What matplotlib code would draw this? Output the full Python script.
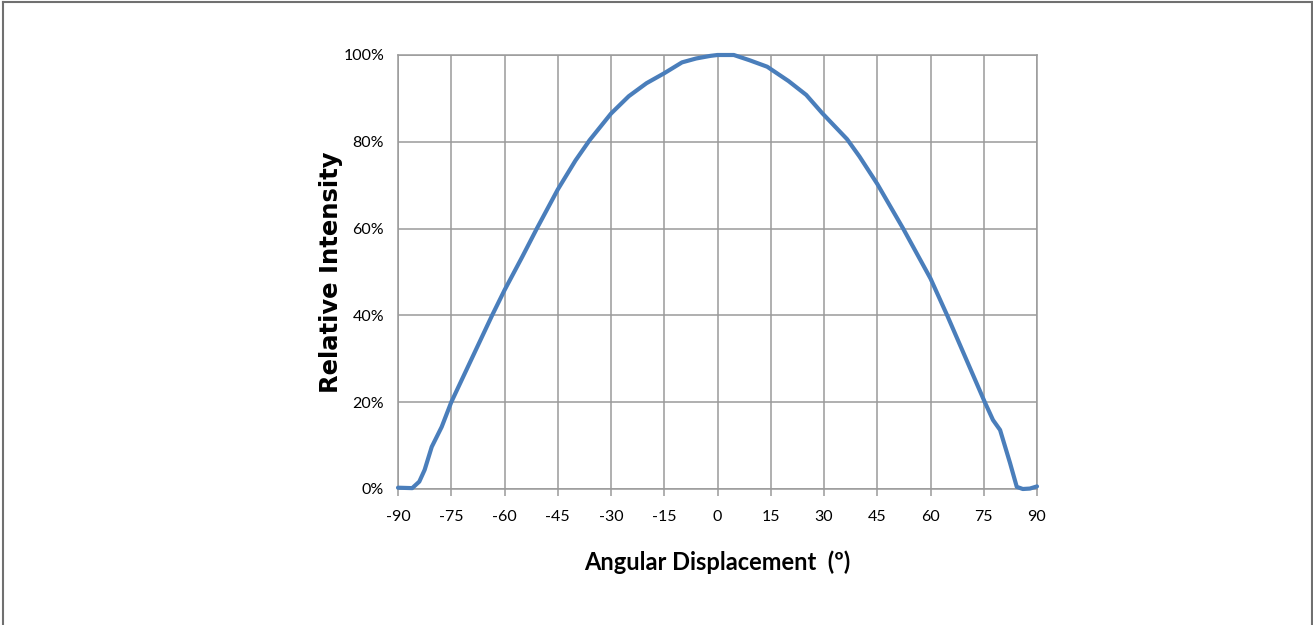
import matplotlib as mpl
mpl.use('Agg')
import matplotlib.pyplot as plt
from matplotlib.lines import Line2D

# angle (deg) vs relative intensity (%)
angles = [-90, -86, -84, -82.5, -80.5, -77.7, -75, -70, -63.5, -60, -55, -50.9, -45,
          -40, -36, -30, -25, -20, -15, -10, -6, -2, 0, 4.6, 9, 14, 20, 25, 29.5,
          36.5, 40, 45, 52.3, 60, 64.7, 70, 75.3, 77.6, 79.6, 82.4, 84.3, 86, 88, 90]
intensity = [0.3, 0.2, 1.7, 4.4, 9.7, 14.3, 20.0, 28.7, 40.0, 45.8, 53.5, 60.0, 69.0,
             75.7, 80.4, 86.5, 90.5, 93.5, 95.8, 98.3, 99.2, 99.8, 100.0, 100.0, 98.8, 97.3, 94.0, 90.8, 86.6,
             80.6, 76.6, 70.3, 60.0, 48.5, 40.0, 30.0, 20.0, 15.9, 13.6, 6.0, 0.5, 0.0, 0.1, 0.6]

xticks = list(range(-90, 91, 15))
yticks = [0, 20, 40, 60, 80, 100]
ytick_labels = ['%d%%' % v for v in yticks]

plt.rcParams['axes.unicode_minus'] = False
tick_font = ['Lato', 'DejaVu Sans']

fig = plt.figure(figsize=(13.13, 6.25), dpi=100)
ax = fig.add_axes([398/1313, 1-489/625, (1037-398)/1313, (489-55)/625])

ax.plot(angles, intensity, color='#4a7ebb', lw=3, solid_joinstyle='round',
        solid_capstyle='round', zorder=3, clip_on=False)

ax.set_xlim(-90, 90)
ax.set_ylim(0, 100)
ax.set_xticks(xticks)
ax.set_yticks(yticks)
ax.set_yticklabels(ytick_labels)
ax.grid(True, color='#9a9a9a', lw=1.1)
for s in ax.spines.values():
    s.set_color('#9a9a9a')
    s.set_linewidth(1.1)
ax.tick_params(axis='x', direction='out', length=5, width=1.1, color='#9a9a9a', pad=10)
ax.tick_params(axis='y', length=0, pad=10)
for lbl in ax.get_xticklabels() + ax.get_yticklabels():
    lbl.set_family(tick_font)
    lbl.set_fontsize(11.5)

ax.set_xlabel('Angular Displacement  (º)', fontsize=17, fontweight='bold',
              family=['Lato', 'DejaVu Sans'], labelpad=19)
ax.set_ylabel('Relative Intensity', fontsize=17.5, fontweight='bold',
              family='DejaVu Sans', labelpad=0)

# thin frame around the figure (left, top, right)
fig.add_artist(Line2D([2.5/1313, 2.5/1313], [0, 1-1.5/625], color='#707070', lw=1.5))
fig.add_artist(Line2D([2.5/1313, 1-1.5/1313], [1-1.5/625, 1-1.5/625], color='#707070', lw=1.5))
fig.add_artist(Line2D([1-1.5/1313, 1-1.5/1313], [0, 1-1.5/625], color='#707070', lw=1.5))

fig.savefig('out.png', dpi=100)
